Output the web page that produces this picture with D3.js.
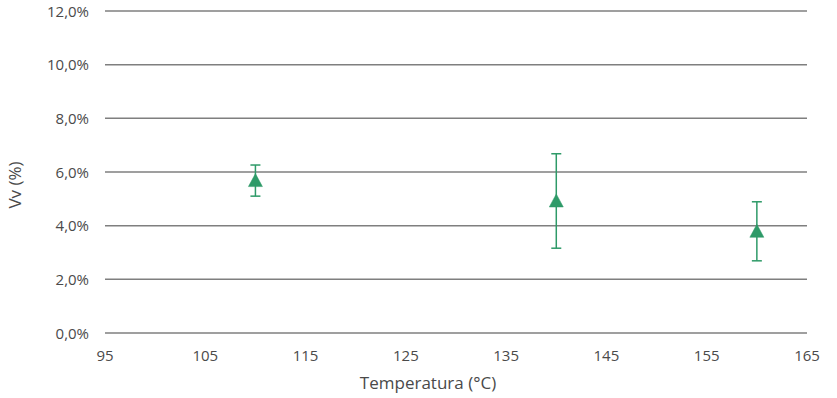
<!DOCTYPE html>
<html>
<head>
<meta charset="utf-8">
<script src="https://cdn.jsdelivr.net/npm/d3@7"></script>
<style>
  body { margin: 0; background: #fff; }
  text { font-family: "Open Sans", "Noto Sans", sans-serif; fill: #4a4a4a; }
</style>
</head>
<body>
<div id="chart"></div>
<script>
const temps = [110, 140, 160];
const vv = [0.0568, 0.0492, 0.0379];
const vvErr = [0.0058, 0.0176, 0.0110];
const xTicks = [95, 105, 115, 125, 135, 145, 155, 165];
const yTicks = [0, 0.02, 0.04, 0.06, 0.08, 0.10, 0.12];

const width = 837, height = 398;
const margin = { top: 11, right: 30, bottom: 65, left: 105 };
const green = '#2e9a68';

const svg = d3.select('#chart')
  .append('svg')
  .attr('width', width)
  .attr('height', height);

const x = d3.scaleLinear().domain([95, 165]).range([margin.left, width - margin.right]);
const y = d3.scaleLinear().domain([0, 0.12]).range([height - margin.bottom, margin.top]);

const fmt = d => (d * 100).toFixed(1).replace('.', ',') + '%';

// gridlines
svg.append('g')
  .selectAll('line')
  .data(yTicks)
  .enter().append('line')
  .attr('x1', x(95))
  .attr('x2', x(165))
  .attr('y1', d => y(d))
  .attr('y2', d => y(d))
  .attr('stroke', '#7f7f7f')
  .attr('stroke-width', 1.5);

// y tick labels
svg.append('g')
  .selectAll('text')
  .data(yTicks)
  .enter().append('text')
  .attr('x', x(95) - 16)
  .attr('y', d => y(d) + 5.5)
  .attr('text-anchor', 'end')
  .attr('font-size', 15)
  .text(fmt);

// x tick labels
svg.append('g')
  .selectAll('text')
  .data(xTicks)
  .enter().append('text')
  .attr('x', d => x(d))
  .attr('y', y(0) + 28)
  .attr('text-anchor', 'middle')
  .attr('font-size', 15)
  .text(d => d);

// axis titles
svg.append('text')
  .attr('x', 428)
  .attr('y', 389)
  .attr('text-anchor', 'middle')
  .attr('font-size', 17)
  .text('Temperatura (°C)');

svg.append('text')
  .attr('transform', 'translate(21,185) rotate(-90)')
  .attr('text-anchor', 'middle')
  .attr('font-size', 17)
  .text('Vv (%)');

const pts = temps.map((t, i) => ({ t, v: vv[i], e: vvErr[i] }));

// error bars
const eb = svg.append('g').selectAll('g').data(pts).enter().append('g')
  .attr('stroke', green).attr('stroke-width', 1.5);
eb.append('line')
  .attr('x1', d => x(d.t)).attr('x2', d => x(d.t))
  .attr('y1', d => y(d.v + d.e)).attr('y2', d => y(d.v - d.e));
eb.append('line')
  .attr('x1', d => x(d.t) - 5).attr('x2', d => x(d.t) + 5)
  .attr('y1', d => y(d.v + d.e)).attr('y2', d => y(d.v + d.e));
eb.append('line')
  .attr('x1', d => x(d.t) - 5).attr('x2', d => x(d.t) + 5)
  .attr('y1', d => y(d.v - d.e)).attr('y2', d => y(d.v - d.e));

// markers
svg.append('g').selectAll('path').data(pts).enter().append('path')
  .attr('d', 'M0,-7L7,6L-7,6Z')
  .attr('transform', d => `translate(${x(d.t)},${y(d.v)})`)
  .attr('fill', green)
  .attr('stroke', green)
  .attr('stroke-width', 0.5);
</script>
</body>
</html>
